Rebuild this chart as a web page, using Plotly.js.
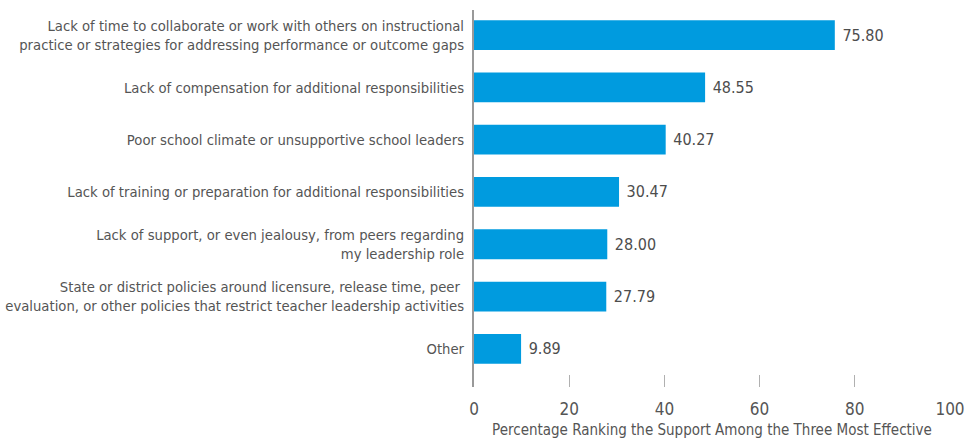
<!DOCTYPE html>
<html>
<head>
<meta charset="utf-8">
<script src="https://cdn.plot.ly/plotly-3.0.1.min.js"></script>
<style>html,body{margin:0;padding:0;background:#fff;}#chart{width:968px;height:439px;}</style>
</head>
<body>
<div id="chart"></div>
<script>
const categories = [
  "Lack of time to collaborate or work with others on instructional<br>practice or strategies for addressing performance or outcome gaps",
  "Lack of compensation for additional responsibilities",
  "Poor school climate or unsupportive school leaders",
  "Lack of training or preparation for additional responsibilities",
  "Lack of support, or even jealousy, from peers regarding<br>my leadership role",
  "State or district policies around licensure, release time, peer <br>evaluation, or other policies that restrict teacher leadership activities",
  "Other"
];
const values = [75.80, 48.55, 40.27, 30.47, 28.00, 27.79, 9.89];
const valueLabels = ["75.80", "48.55", "40.27", "30.47", "28.00", "27.79", "9.89"];
const xTicks = [0, 20, 40, 60, 80, 100];

const FONT = "'DejaVu Sans Condensed', 'Liberation Sans Narrow', sans-serif";

Plotly.newPlot('chart', [{
  type: 'bar',
  orientation: 'h',
  x: values,
  y: categories,
  text: valueLabels.map(s => ' ' + s),
  textposition: 'outside',
  cliponaxis: false,
  textfont: {family: FONT, size: 16, color: '#4d4d4d'},
  marker: {color: '#009bdf'},
  width: 0.57,
  hoverinfo: 'none'
}], {
  width: 968,
  height: 439,
  margin: {l: 474, r: 18, t: 10, b: 52},
  paper_bgcolor: '#fff',
  plot_bgcolor: '#fff',
  showlegend: false,
  font: {family: FONT, size: 15, color: '#555'},
  xaxis: {
    range: [0, 100],
    tickvals: xTicks,
    ticktext: xTicks.map(String),
    showgrid: false,
    zeroline: false,
    showline: false,
    ticks: 'inside',
    ticklen: 12,
    tickwidth: 1,
    tickcolor: '#b0b0b0',
    ticklabelstandoff: 10,
    tickfont: {family: FONT, size: 17, color: '#555'},
    title: {text: 'Percentage Ranking the Support Among the Three Most Effective', font: {family: FONT, size: 15, color: '#555'}, standoff: 13},
    automargin: false
  },
  yaxis: {
    type: 'category',
    categoryorder: 'array',
    categoryarray: categories,
    range: [6.73, -0.48],
    showgrid: false,
    zeroline: false,
    showline: true,
    linecolor: '#999999',
    linewidth: 2,
    ticks: '',
    ticklabelstandoff: 5,
    tickfont: {family: FONT, size: 14.7, color: '#555'},
    automargin: false
  }
}, {staticPlot: true, displayModeBar: false});
</script>
</body>
</html>
